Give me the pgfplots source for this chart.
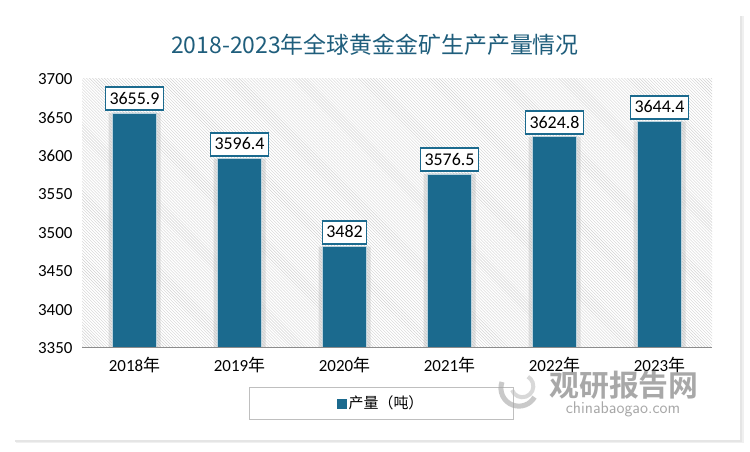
\documentclass[border=0pt]{standalone}
\usepackage{fontspec}
\setmainfont{Carlito}
\newfontfamily\cjk{Noto Sans CJK SC}
\newfontfamily\cjkb{Noto Sans CJK SC Bold}
\usepackage{pgfplots}
\pgfplotsset{compat=1.18}
\usetikzlibrary{patterns}
\definecolor{barcol}{HTML}{1B6A8E}
\definecolor{titlecol}{HTML}{1F5E7C}
\begin{document}
\begin{tikzpicture}[x=1bp,y=1bp]
\useasboundingbox (0,0) rectangle (750,452);
\fill[white] (0,0) rectangle (750,452);
% card with soft shadow
\fill[black!6] (16,9) rectangle (744,436);
\fill[black!10] (15,10) rectangle (742,436);
\fill[white] (14,12) rectangle (740,437);
\node[font=\cjk\fontsize{23}{26}\selectfont, text=titlecol] at (375,407)
  {2018-2023年全球黄金金矿生产产量情况};
\begin{axis}[
    at={(82bp,104bp)}, anchor=south west,
    scale only axis, width=630bp, height=269bp,
    xmin=-0.5, xmax=5.5, ymin=3350, ymax=3700,
    ytick={3350,3400,...,3700},
    xtick={0,...,5},
    xticklabels={2018{\cjk 年},2019{\cjk 年},2020{\cjk 年},2021{\cjk 年},2022{\cjk 年},2023{\cjk 年}},
    xtick pos=bottom, ytick pos=left,
    axis line style={draw=none},
    major tick length=0pt,
    axis background/.style={pattern=north west lines, pattern color=black!18},
    /pgf/number format/assume math mode=true,
    /pgf/number format/1000 sep={},
    tick label style={font=\fontsize{17}{20}\selectfont, text=black},
    yticklabel style={xshift=-6bp},
    xticklabel style={yshift=-6bp},
    ybar, bar width=44bp, bar shift=0pt,
    legend style={at={(rel axis cs:0.475,0)}, anchor=north, yshift=-39bp,
        draw=black!25, inner xsep=88bp, inner ysep=7bp,
        font=\cjk\fontsize{15}{17}\selectfont},
    legend image code/.code={\fill[barcol] (0bp,-4.5bp) rectangle (9bp,4.5bp);},
]
% soft shadow behind the bars
\addplot[forget plot, fill=black!30, draw=none, opacity=0.35, bar width=52bp] coordinates {
    (0,3655.9) (1,3596.4) (2,3482) (3,3576.5) (4,3624.8) (5,3644.4)
};
\addplot[fill=barcol, draw=white!70!barcol, line width=0.6bp,
    point meta=explicit symbolic,
    nodes near coords,
    nodes near coords style={draw=barcol, line width=1.5bp, fill=white,
        font=\fontsize{18}{20}\selectfont, text=black,
        inner xsep=4bp, inner ysep=5bp, text height=12bp, text depth=1bp,
        yshift=2bp}] coordinates {
    (0,3655.9)[3655.9] (1,3596.4)[3596.4] (2,3482)[3482]
    (3,3576.5)[3576.5] (4,3624.8)[3624.8] (5,3644.4)[3644.4]
};
\addlegendentry{产量（吨）}
\draw[black!45, line width=1.2bp] (rel axis cs:0,0) -- (rel axis cs:1,0);
\end{axis}
% watermark
\node[font=\cjkb\fontsize{30}{32}\selectfont, text=black!45, opacity=0.75] at (624,67) {观研报告网};
\node[font=\fontsize{17}{19}\selectfont\sffamily, text=black!45, opacity=0.75] at (623,43) {chinabaogao.com};
\draw[black!35, line width=5bp, opacity=0.6] (502,70) arc (160:330:18bp);
\draw[black!25, line width=4bp, opacity=0.6] (512,62) arc (200:420:11bp);
\end{tikzpicture}
\end{document}
